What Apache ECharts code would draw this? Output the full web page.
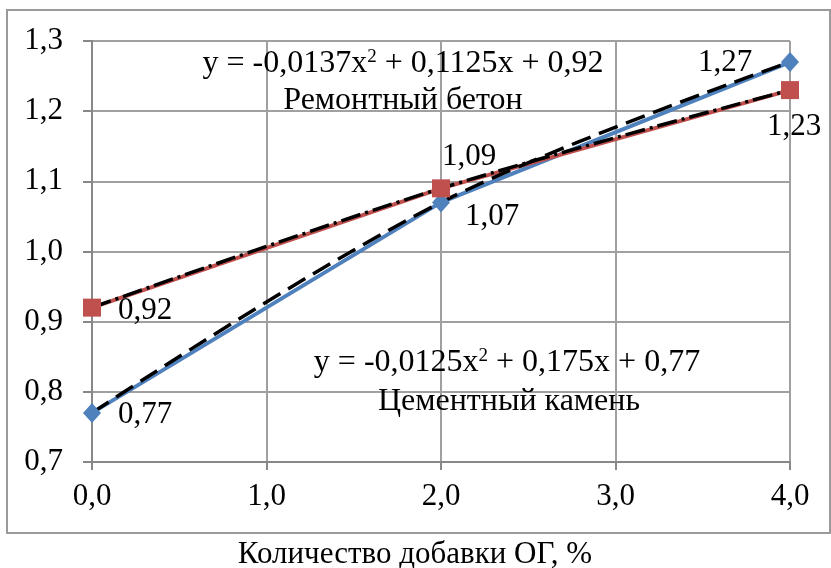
<!DOCTYPE html>
<html><head><meta charset="utf-8">
<script src="https://cdn.jsdelivr.net/npm/echarts@6/dist/echarts.min.js"></script>
<style>html,body{margin:0;padding:0;background:#fff}#c{width:831px;height:568px}</style>
</head><body><div id="c"></div>
<script>
// Data
const xValues = [0, 2, 4];
const cementValues = [0.77, 1.07, 1.27];   // Цементный камень
const repairValues = [0.92, 1.09, 1.23];   // Ремонтный бетон
const cementName = 'Цементный камень';
const repairName = 'Ремонтный бетон';
const cementEq = 'y = -0,0125x{s|2} + 0,175x + 0,77';
const repairEq = 'y = -0,0137x{s|2} + 0,1125x + 0,92';
const xTitle = 'Количество добавки ОГ, %';

const FONT = 'Liberation Serif';
const FS = 31;
const fmt = v => v.toFixed(1).replace('.', ',');
const fmt2 = v => v.toFixed(2).replace('.', ',');
const pts = arr => xValues.map((x, i) => [x, arr[i]]);

const cementOffsets = [[53, 2], [51, 14], [-65, 1]];
const repairOffsets = [[53, 3], [28, -31], [4, 37]];
const withLabels = (arr, offs) => xValues.map((x, i) => ({
  value: [x, arr[i]],
  label: { offset: offs[i] }
}));
const labelStyle = {
  show: true, position: 'inside', align: 'center', verticalAlign: 'middle',
  fontFamily: FONT, fontSize: FS, color: '#000', opacity: 1,
  formatter: p => fmt2(p.value[1])
};
const BLUE = '#4F81BD', RED = '#C0504D', GRID = '#a0a0a0';
const supRich = { s: { fontSize: 19, fontFamily: FONT, fill: '#000', verticalAlign: 'top', padding: [0, 0, 13, 0] } };
const txt = (x, y, text, size, rich) => ({
  type: 'text', x, y, z: 10,
  style: { text, rich, fontFamily: FONT, fontSize: size, fill: '#000', align: 'center', verticalAlign: 'middle' }
});

const chart = echarts.init(document.getElementById('c'), null, { renderer: 'canvas' });
chart.setOption({
  animation: false,
  backgroundColor: '#fff',
  grid: { left: 92, right: 41, top: 41, bottom: 106 },
  xAxis: {
    type: 'value', min: 0, max: 4, interval: 1,
    axisLine: { onZero: false, lineStyle: { color: '#888', width: 2 } },
    axisTick: { show: true, length: 8, lineStyle: { color: '#888', width: 2 } },
    axisLabel: { formatter: fmt, fontFamily: FONT, fontSize: FS, color: '#000', margin: 19 },
    splitLine: { show: true, lineStyle: { color: GRID, width: 2 } }
  },
  yAxis: {
    type: 'value', min: 0.7, max: 1.3, interval: 0.1,
    axisLine: { show: true, onZero: false, lineStyle: { color: '#888', width: 2 } },
    axisTick: { show: true, length: 9, lineStyle: { color: '#888', width: 2 } },
    axisLabel: { formatter: fmt, fontFamily: FONT, fontSize: FS, color: '#000', margin: 29 },
    splitLine: { show: true, lineStyle: { color: GRID, width: 2 } }
  },
  graphic: [
    { type: 'rect', shape: { x: 7, y: 10, width: 823, height: 523 }, style: { fill: 'none', stroke: '#9a9a9a', lineWidth: 2 }, z: 0 },
    txt(403, 64, repairEq, 32, supRich),
    txt(403, 101, repairName, 32),
    txt(507, 363, cementEq, 32, supRich),
    txt(509, 402, cementName, 32),
    txt(415, 555, xTitle, 31)
  ],
  series: [
    { name: cementName, type: 'line', data: pts(cementValues), showSymbol: false, z: 2,
      lineStyle: { color: BLUE, width: 4 } },
    { name: repairName, type: 'line', data: pts(repairValues), showSymbol: false, z: 2,
      lineStyle: { color: RED, width: 4 } },
    { name: cementName + ' тренд', type: 'line', data: pts(cementValues), smooth: 0.35, showSymbol: false, z: 3,
      lineStyle: { color: '#000', width: 3.5, type: [20, 9] } },
    { name: repairName + ' тренд', type: 'line', data: pts(repairValues), smooth: 0.35, showSymbol: false, z: 3,
      lineStyle: { color: '#000', width: 3.5, type: [20, 5, 3, 5] } },
    { type: 'scatter', data: withLabels(cementValues, cementOffsets), symbol: 'diamond', symbolSize: [18, 20], z: 4,
      itemStyle: { color: BLUE, opacity: 1 }, label: labelStyle },
    { type: 'scatter', data: withLabels(repairValues, repairOffsets), symbol: 'rect', symbolSize: 18, z: 4,
      itemStyle: { color: RED, opacity: 1 }, label: labelStyle }
  ]
});
</script></body></html>
